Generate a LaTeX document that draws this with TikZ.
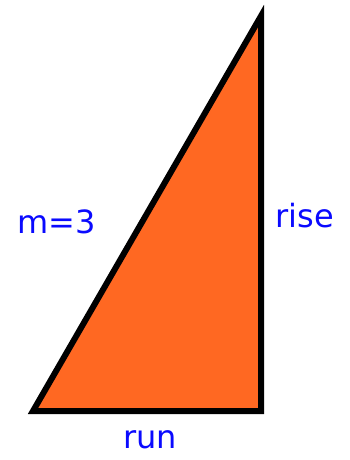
\documentclass[tikz,border=0pt]{standalone}
\usepackage{fontspec}
\setmainfont{DejaVu Sans}
\definecolor{tri}{RGB}{255,104,34}
\definecolor{lab}{RGB}{10,10,255}
\tikzset{lbl/.style={text=lab,font=\fontsize{32}{36}\selectfont,inner sep=0pt}}
\begin{document}
\begin{tikzpicture}[x=1pt,y=-1pt]
\useasboundingbox (0,0) rectangle (349,460);
\coordinate (A) at (33,411);
\coordinate (B) at (261,411);
\coordinate (C) at (261,16);
\draw[fill=tri,line width=6pt,line join=miter] (A) -- (B) -- (C) -- cycle;
\node[lbl] (m) at (57,222) {m=3};
\node[lbl] (rise) at (305,216) {rise};
\node[lbl] (run) at (150,440) {run};
\end{tikzpicture}
\end{document}
